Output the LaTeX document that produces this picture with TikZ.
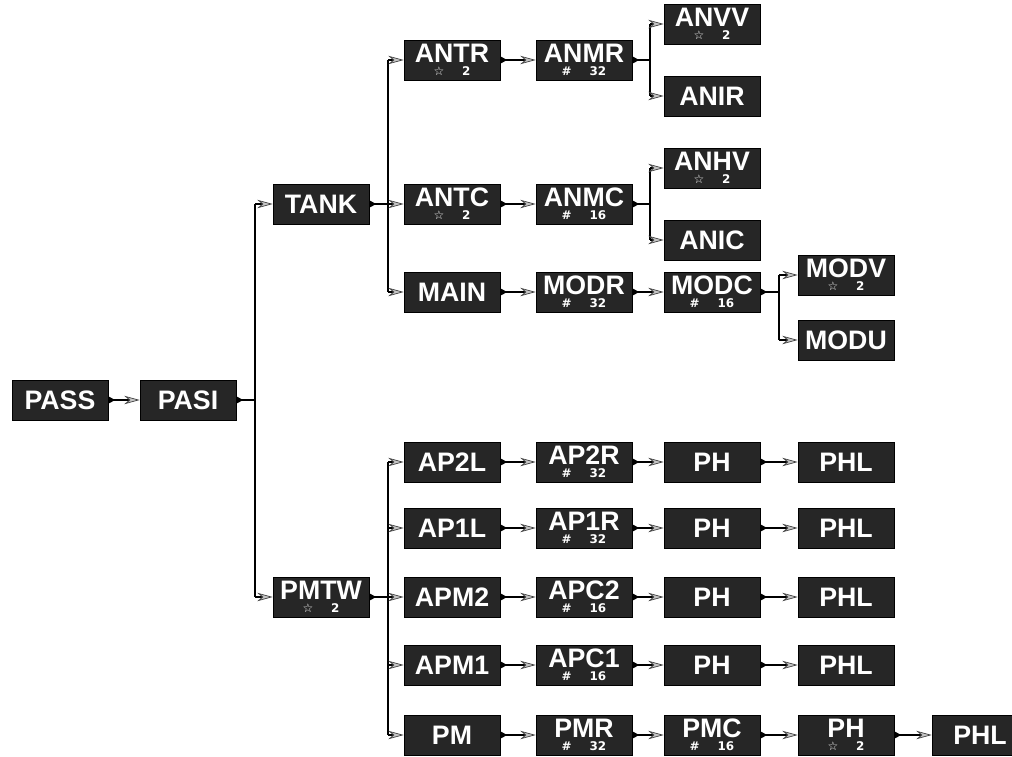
\documentclass[tikz,border=0pt]{standalone}
\usepackage{fontspec}
\usepackage{tikz}
\usetikzlibrary{arrows.meta,calc}
\newfontfamily\boxfont{Liberation Sans}
\newfontfamily\symfont{DejaVu Sans}
% small tag under a record name
\newcommand{\subtag}[2]{\\[-9.5pt]{\fontsize{8.5}{8.5}\selectfont\symfont #1\hspace{1.5em}#2}}

\tikzset{
  recbox/.style={rectangle, fill=black!85, draw=black, text=white, align=center,
    minimum width=2.4cm, minimum height=1.0cm, inner sep=0pt,
    font=\boxfont\fontsize{19}{19}\selectfont\bfseries},
  link/.style={line width=0.9pt,
    {Triangle[reversed,length=5pt,width=5pt]}-{Stealth[length=11pt,width=6pt,fill=gray!45,color=black!75,line width=0.5pt]}},
  tail/.style={line width=0.9pt, {Triangle[reversed,length=5pt,width=5pt]}-},
  head/.style={line width=0.9pt, -{Stealth[length=11pt,width=6pt,fill=gray!45,color=black!75,line width=0.5pt]}},
  bus/.style={line width=0.9pt}
}

\begin{document}
\begin{tikzpicture}[x=0.025cm,y=-0.025cm]
    \useasboundingbox (0,0) rectangle (1012,756);
    % Root
    \node[recbox] (pass) at (60,400) {PASS};
    \node[recbox] (pasi) at (188,400) {PASI};
    \node[recbox] (tank) at (321,204) {TANK};
    \node[recbox] (pmtw) at (321,597) {PMTW\subtag{☆}{2}};
    % Tank branch
    \node[recbox] (antr) at (452,60) {ANTR\subtag{☆}{2}};
    \node[recbox] (anmr) at (584,60) {ANMR\subtag{\#}{32}};
    \node[recbox] (anvv) at (712,24) {ANVV\subtag{☆}{2}};
    \node[recbox] (anir) at (712,96) {ANIR};
    \node[recbox] (antc) at (452,204) {ANTC\subtag{☆}{2}};
    \node[recbox] (anmc) at (584,204) {ANMC\subtag{\#}{16}};
    \node[recbox] (anhv) at (712,168) {ANHV\subtag{☆}{2}};
    \node[recbox] (anic) at (712,240) {ANIC};
    \node[recbox] (main) at (452,292) {MAIN};
    \node[recbox] (modr) at (584,292) {MODR\subtag{\#}{32}};
    \node[recbox] (modc) at (712,292) {MODC\subtag{\#}{16}};
    \node[recbox] (modv) at (846,275) {MODV\subtag{☆}{2}};
    \node[recbox] (modu) at (846,340) {MODU};
    % PMTW branch
    \node[recbox] (ap2l) at (452,462) {AP2L};
    \node[recbox] (ap2r) at (584,462) {AP2R\subtag{\#}{32}};
    \node[recbox] (ph1) at (712,462) {PH};
    \node[recbox] (phl1) at (846,462) {PHL};
    \node[recbox] (ap1l) at (452,528) {AP1L};
    \node[recbox] (ap1r) at (584,528) {AP1R\subtag{\#}{32}};
    \node[recbox] (ph2) at (712,528) {PH};
    \node[recbox] (phl2) at (846,528) {PHL};
    \node[recbox] (apm2) at (452,597) {APM2};
    \node[recbox] (apc2) at (584,597) {APC2\subtag{\#}{16}};
    \node[recbox] (ph3) at (712,597) {PH};
    \node[recbox] (phl3) at (846,597) {PHL};
    \node[recbox] (apm1) at (452,665) {APM1};
    \node[recbox] (apc1) at (584,665) {APC1\subtag{\#}{16}};
    \node[recbox] (ph4) at (712,665) {PH};
    \node[recbox] (phl4) at (846,665) {PHL};
    \node[recbox] (pm) at (452,735) {PM};
    \node[recbox] (pmr) at (584,735) {PMR\subtag{\#}{32}};
    \node[recbox] (pmc) at (712,735) {PMC\subtag{\#}{16}};
    \node[recbox] (ph5) at (846,735) {PH\subtag{☆}{2}};
    \node[recbox] (phl5) at (980,735) {PHL};
    % bus lines
    \coordinate (busA) at (255,400);
    \coordinate (busB) at (388,204);
    \coordinate (busP) at (388,597);
    \coordinate (busR) at (650,60);
    \coordinate (busC) at (650,204);
    \coordinate (busM) at (779,292);
    \draw[tail] (pasi.east) -- (busA);
    \draw[bus] (busA |- tank.west) -- (busA |- pmtw.west);
    \foreach \n in {tank,pmtw} \draw[head] (busA |- \n.west) -- (\n.west);
    \draw[tail] (tank.east) -- (busB);
    \draw[bus] (busB |- antr.west) -- (busB |- main.west);
    \foreach \n in {antr,antc,main} \draw[head] (busB |- \n.west) -- (\n.west);
    \draw[tail] (anmr.east) -- (busR);
    \draw[bus] (busR |- anvv.west) -- (busR |- anir.west);
    \foreach \n in {anvv,anir} \draw[head] (busR |- \n.west) -- (\n.west);
    \draw[tail] (anmc.east) -- (busC);
    \draw[bus] (busC |- anhv.west) -- (busC |- anic.west);
    \foreach \n in {anhv,anic} \draw[head] (busC |- \n.west) -- (\n.west);
    \draw[tail] (modc.east) -- (busM);
    \draw[bus] (busM |- modv.west) -- (busM |- modu.west);
    \foreach \n in {modv,modu} \draw[head] (busM |- \n.west) -- (\n.west);
    \draw[tail] (pmtw.east) -- (busP);
    \draw[bus] (busP |- ap2l.west) -- (busP |- pm.west);
    \foreach \n in {ap2l,ap1l,apm2,apm1,pm} \draw[head] (busP |- \n.west) -- (\n.west);
    % chains
    \foreach \a/\b in {pass/pasi,antr/anmr,antc/anmc,main/modr,modr/modc,
        ap2l/ap2r,ap2r/ph1,ph1/phl1,ap1l/ap1r,ap1r/ph2,ph2/phl2,
        apm2/apc2,apc2/ph3,ph3/phl3,apm1/apc1,apc1/ph4,ph4/phl4,
        pm/pmr,pmr/pmc,pmc/ph5,ph5/phl5}
      \draw[link] (\a.east) -- (\b.west);
\end{tikzpicture}
\end{document}
